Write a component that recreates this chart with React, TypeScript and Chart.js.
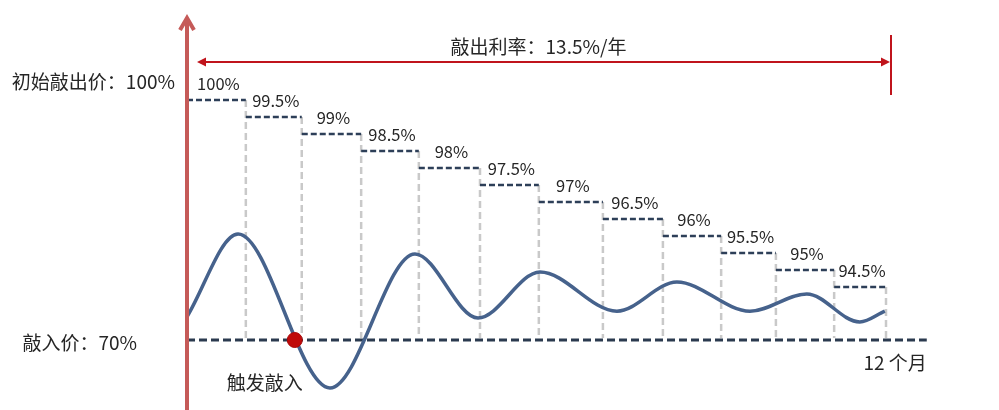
import { useEffect, useRef } from "react"
import { Chart, registerables } from "chart.js"

Chart.register(...registerables)

// knock-out schedule: one level per monthly observation
const levelLabels = ["100%", "99.5%", "99%", "98.5%", "98%", "97.5%", "97%", "96.5%", "96%", "95.5%", "95%", "94.5%"]
const knockOutLevels = [100, 99.5, 99, 98.5, 98, 97.5, 97, 96.5, 96, 95.5, 95, 94.5]
const observationMonths = [0, 1.01, 1.97, 2.99, 3.98, 5.03, 6.04, 7.14, 8.17, 9.17, 10.11, 11.11, 12]

const knockInLevel = 70
const knockInLineEnd = 12.7

// schematic underlying price path (in % of initial price): start, turning points, end
const priceMonths = [0, 0.876, 2.455, 3.914, 4.996, 6.06, 7.38, 8.41, 9.665, 10.64, 11.55, 11.98]
const priceValues = [72.9, 83.25, 64.0, 80.75, 72.75, 78.5, 73.6, 77.25, 73.6, 75.75, 72.25, 73.6]

const triggerMonth = 1.85
const triggerPrice = 70

const couponText = "敲出利率：13.5%/年"
const initialLabel = "初始敲出价：100%"
const knockInLabel = "敲入价：70%"
const triggerLabel = "触发敲入"
const tenorLabel = "12 个月"

const FONT = '"Noto Sans CJK SC", "Noto Sans", sans-serif'
const TEXT = "#262626"

const decorPlugin = {
  id: "decor",
  beforeDatasetsDraw(chart: any) {
    const { ctx, scales } = chart
    const x = scales.x
    const yStep = scales.yStep
    const yPrice = scales.yPrice
    ctx.save()
    ctx.strokeStyle = "#c9c9c9"
    ctx.lineWidth = 2.5
    ctx.setLineDash([7, 4])
    knockOutLevels.forEach((lvl, i) => {
      const px = x.getPixelForValue(observationMonths[i + 1])
      ctx.beginPath()
      ctx.moveTo(px, yStep.getPixelForValue(lvl))
      ctx.lineTo(px, yPrice.getPixelForValue(knockInLevel) - 2)
      ctx.stroke()
    })
    ctx.restore()
  },
  afterDatasetsDraw(chart: any) {
    const { ctx, scales } = chart
    const x = scales.x
    const yStep = scales.yStep
    const yPrice = scales.yPrice
    const x0 = x.getPixelForValue(0)
    const x12 = x.getPixelForValue(12)
    ctx.save()

    // vertical axis with arrow
    ctx.strokeStyle = "#c55a58"
    ctx.lineWidth = 4
    ctx.beginPath()
    ctx.moveTo(x0, chart.height)
    ctx.lineTo(x0, 18)
    ctx.stroke()
    ctx.beginPath()
    ctx.moveTo(x0 - 7, 30)
    ctx.lineTo(x0, 18)
    ctx.lineTo(x0 + 7, 30)
    ctx.stroke()

    // coupon arrow
    const ay = yStep.getPixelForValue(100) - 38
    const xl = x0 + 10
    const xr = x12 + 4
    ctx.strokeStyle = "#c0141c"
    ctx.fillStyle = "#c0141c"
    ctx.lineWidth = 2
    ctx.beginPath()
    ctx.moveTo(xl + 4, ay)
    ctx.lineTo(xr - 4, ay)
    ctx.stroke()
    ctx.beginPath()
    ctx.moveTo(xl, ay)
    ctx.lineTo(xl + 9, ay - 4.5)
    ctx.lineTo(xl + 9, ay + 4.5)
    ctx.closePath()
    ctx.fill()
    ctx.beginPath()
    ctx.moveTo(xr, ay)
    ctx.lineTo(xr - 9, ay - 4.5)
    ctx.lineTo(xr - 9, ay + 4.5)
    ctx.closePath()
    ctx.fill()
    ctx.beginPath()
    ctx.moveTo(xr + 1, ay - 27)
    ctx.lineTo(xr + 1, ay + 33)
    ctx.stroke()

    ctx.fillStyle = TEXT
    ctx.textBaseline = "middle"
    ctx.font = `19px ${FONT}`
    ctx.textAlign = "center"
    ctx.fillText(couponText, (x0 + xr) / 2, ay - 15)

    // left labels
    ctx.textAlign = "right"
    ctx.fillText(initialLabel, x0 - 12, yStep.getPixelForValue(100) - 18)
    ctx.fillText(knockInLabel, x0 - 50, yPrice.getPixelForValue(knockInLevel) + 3)

    // trigger and tenor labels
    ctx.textAlign = "center"
    ctx.fillText(triggerLabel, x.getPixelForValue(triggerMonth) - 30, yPrice.getPixelForValue(triggerPrice) + 43)
    ctx.textAlign = "right"
    ctx.fillText(tenorLabel, x.getPixelForValue(knockInLineEnd), yPrice.getPixelForValue(knockInLevel) + 23)

    // step labels
    ctx.font = `16.5px ${FONT}`
    ctx.textAlign = "center"
    knockOutLevels.forEach((lvl, i) => {
      const cx = (x.getPixelForValue(observationMonths[i]) + x.getPixelForValue(observationMonths[i + 1])) / 2
      ctx.fillText(levelLabels[i], cx + 2, yStep.getPixelForValue(lvl) - 16)
    })

    ctx.restore()
  },
}

export default function App() {
  const chartRef = useRef<HTMLCanvasElement>(null)
  const chartInstance = useRef<Chart | null>(null)

  useEffect(() => {
    document.body.style.margin = "0"
    if (!chartRef.current) return
    if (chartInstance.current) chartInstance.current.destroy()

    const stepData: { x: number; y: number | null }[] = []
    knockOutLevels.forEach((lvl, i) => {
      stepData.push({ x: observationMonths[i], y: lvl })
      stepData.push({ x: observationMonths[i + 1], y: lvl })
      stepData.push({ x: observationMonths[i + 1], y: null })
    })

    const ctx = chartRef.current.getContext("2d")
    if (!ctx) return

    chartInstance.current = new Chart(ctx, {
      type: "line",
      data: {
        datasets: [
          {
            label: "trigger",
            data: [{ x: triggerMonth, y: triggerPrice }],
            yAxisID: "yPrice",
            showLine: false,
            pointRadius: 7.5,
            pointHoverRadius: 7.5,
            pointBackgroundColor: "#c00a0a",
            pointBorderColor: "#a80808",
            pointBorderWidth: 1,
            order: 0,
          },
          {
            label: "price",
            data: priceMonths.map((m, i) => ({ x: m, y: priceValues[i] })),
            yAxisID: "yPrice",
            borderColor: "#46628c",
            borderWidth: 3.5,
            pointRadius: 0,
            cubicInterpolationMode: "monotone",
            order: 1,
          },
          {
            label: "knock-in",
            data: [
              { x: 0, y: knockInLevel },
              { x: knockInLineEnd, y: knockInLevel },
            ],
            yAxisID: "yPrice",
            borderColor: "#2b3a4f",
            borderWidth: 3,
            borderDash: [8, 4],
            pointRadius: 0,
            order: 2,
          },
          {
            label: "knock-out",
            data: stepData,
            yAxisID: "yStep",
            borderColor: "#2d3f58",
            borderWidth: 2.5,
            borderDash: [6, 3],
            pointRadius: 0,
            spanGaps: false,
            order: 3,
          },
        ],
      },
      options: {
        responsive: true,
        maintainAspectRatio: false,
        animation: false,
        events: [],
        layout: { autoPadding: false, padding: { left: 187, right: 54.75, top: 0, bottom: 0 } },
        plugins: {
          legend: { display: false },
          tooltip: { enabled: false },
        },
        scales: {
          x: { type: "linear", min: 0, max: 13, display: false },
          yStep: { type: "linear", min: 90.88, max: 102.94, display: false },
          yPrice: { type: "linear", min: 61.25, max: 112.5, display: false },
        },
      },
      plugins: [decorPlugin],
    })

    return () => {
      if (chartInstance.current) {
        chartInstance.current.destroy()
        chartInstance.current = null
      }
    }
  }, [])

  return (
    <div style={{ position: "relative", width: 999, height: 410, background: "#fff" }}>
      <canvas ref={chartRef} />
    </div>
  )
}
